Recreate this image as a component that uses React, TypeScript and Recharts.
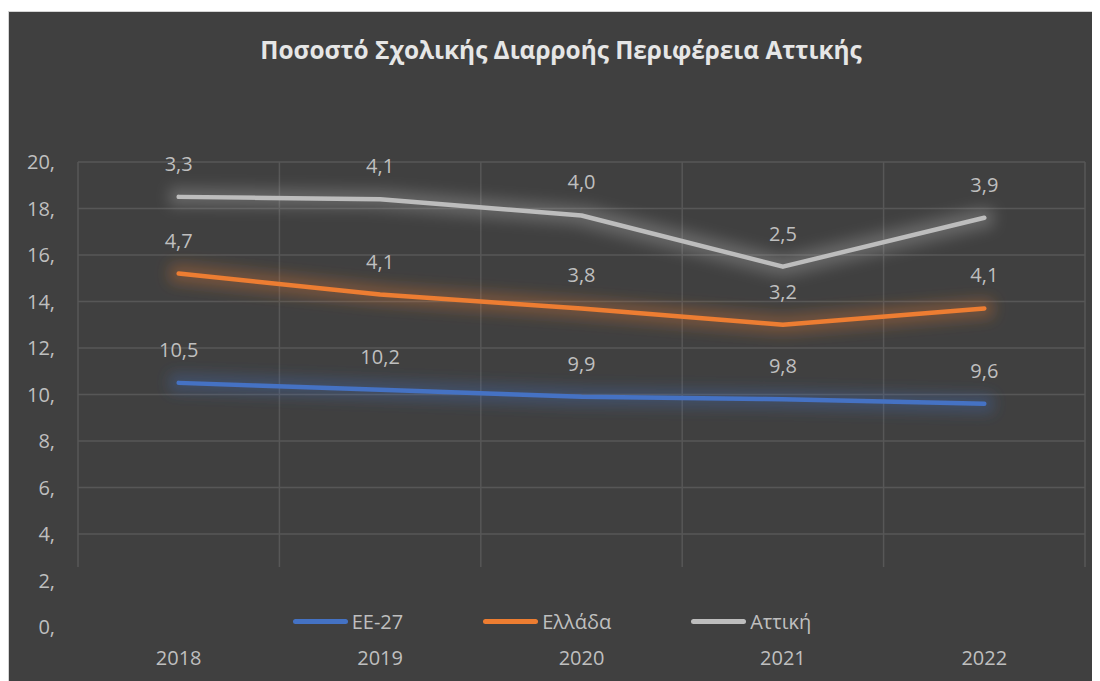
import React from "react";
import { ComposedChart, Area, XAxis, YAxis, CartesianGrid, LabelList } from "recharts";

// Excel stacked line chart: each series sits on top of the previous one
const years = ["2018", "2019", "2020", "2021", "2022"];
const ee27 = [10.5, 10.2, 9.9, 9.8, 9.6];
const ellada = [4.7, 4.1, 3.8, 3.2, 4.1];
const attiki = [3.3, 4.1, 4.0, 2.5, 3.9];
const yTicks = [0, 2, 4, 6, 8, 10, 12, 14, 16, 18, 20];

const series = [
  { key: "ee27", name: "EE-27", color: "#4472C4", glow: "glowBlue" },
  { key: "ellada", name: "Ελλάδα", color: "#ED7D31", glow: "glowOrange" },
  { key: "attiki", name: "Αττική", color: "#BDBDBD", glow: "glowGray" },
];

const data = years.map((y, i) => ({
  year: y,
  ee27: ee27[i],
  ellada: ellada[i],
  attiki: attiki[i],
}));

const FONT = "'Open Sans', 'Noto Sans', sans-serif";
const TXT = "#BFBFBF";
const comma = (v: number) => v.toFixed(1).replace(".", ",");

// soft Excel-like "glow" around each line
function GlowDefs() {
  return (
    <svg width={0} height={0} style={{ position: "absolute" }}>
      <defs>
        {series.map((s) => (
          <filter
            key={s.glow}
            id={s.glow}
            filterUnits="userSpaceOnUse"
            x={0}
            y={0}
            width={1100}
            height={700}
          >
            <feMorphology in="SourceAlpha" operator="dilate" radius="7" result="fat" />
            <feGaussianBlur in="fat" stdDeviation="7" result="blur" />
            <feFlood floodColor={s.color} floodOpacity="0.3" result="tint" />
            <feComposite in="tint" in2="blur" operator="in" result="halo" />
            <feMerge>
              <feMergeNode in="halo" />
              <feMergeNode in="SourceGraphic" />
            </feMerge>
          </filter>
        ))}
      </defs>
    </svg>
  );
}

function LegendRow() {
  return (
    <div
      style={{
        position: "absolute",
        zIndex: 3,
        top: 596,
        left: -3,
        width: 1092,
        display: "flex",
        justifyContent: "center",
        alignItems: "center",
      }}
    >
      {series.map((s, i) => (
        <div
          key={s.key}
          style={{ display: "flex", alignItems: "center", marginLeft: i === 0 ? 0 : 80 }}
        >
          <span
            style={{
              display: "inline-block",
              width: 55,
              height: 5,
              borderRadius: 3,
              background: s.color,
              marginRight: 4,
            }}
          />
          <span style={{ color: TXT, fontSize: 20, fontFamily: FONT }}>{s.name}</span>
        </div>
      ))}
    </div>
  );
}

export default function App() {
  return (
    <div style={{ paddingTop: 3 }}>
      <div
        style={{
          width: 1092,
          height: 669,
          background: "#404040",
          border: "1px solid #d4d4d4",
          position: "relative",
        }}
      >
        <GlowDefs />
        <div
          style={{
            position: "absolute",
            top: 21,
            left: 6,
            width: 1092,
            textAlign: "center",
            color: "#E6E6E6",
            fontFamily: FONT,
            fontWeight: 700,
            fontSize: 24.4,
            lineHeight: "33px",
          }}
        >
          Ποσοστό Σχολικής Διαρροής Περιφέρεια Αττικής
        </div>
        <ComposedChart
          width={1090}
          height={669}
          data={data}
          margin={{ top: 150, right: 14, left: 0, bottom: 14 }}
        >
          <CartesianGrid
            stroke="#575757"
            strokeWidth={1.5}
            verticalCoordinatesGenerator={({ offset }: any) =>
              [0, 1, 2, 3, 4, 5].map((k) => offset.left + (k * offset.width) / years.length)
            }
          />
          <XAxis
            dataKey="year"
            scale="band"
            axisLine={false}
            tickLine={false}
            tickMargin={18}
            height={40}
            tick={{ fill: TXT, fontSize: 20, fontFamily: FONT }}
          />
          <YAxis
            domain={[0, 20]}
            ticks={yTicks}
            axisLine={false}
            tickLine={false}
            tickMargin={17}
            width={69}
            tickFormatter={(v: number) => `${v},`}
            tick={{ fill: TXT, fontSize: 20, fontFamily: FONT }}
          />
          {series.map((s) => (
            <Area
              key={s.key}
              type="linear"
              dataKey={s.key}
              name={s.name}
              stackId="stack"
              stroke={s.color}
              strokeWidth={4.5}
              strokeLinecap="round"
              strokeLinejoin="round"
              fill="none"
              fillOpacity={0}
              dot={false}
              activeDot={false}
              style={{ filter: `url(#${s.glow})` }}
              isAnimationActive={false}
            >
              <LabelList
                dataKey={s.key}
                position="top"
                offset={26}
                formatter={(v: number) => comma(v)}
                fill={TXT}
                fontSize={20}
                fontFamily={FONT}
              />
            </Area>
          ))}
        </ComposedChart>
        {/* Excel draws the legend over the bottom of the plot area */}
        <div
          style={{
            position: "absolute",
            zIndex: 2,
            top: 555,
            left: 68,
            width: 1010,
            height: 80,
            background: "#404040",
          }}
        />
        <LegendRow />
      </div>
    </div>
  );
}
